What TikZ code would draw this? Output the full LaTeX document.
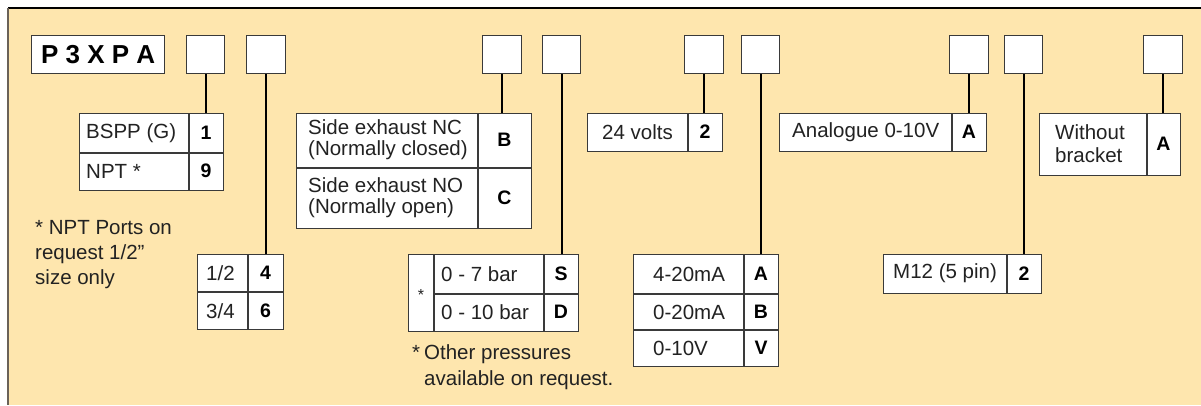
\documentclass[tikz,border=0pt]{standalone}
\usepackage{fontspec}
\setmainfont{Liberation Sans}
\definecolor{panel}{HTML}{FEE6AE}
\definecolor{tline}{HTML}{3A3A3A}
\definecolor{txt}{HTML}{222222}
\definecolor{lborder}{HTML}{6A6258}
\tikzset{
  panelfill/.style={fill=panel, draw=none},
  codebox/.style={draw=tline, fill=white, line width=1.3pt, inner sep=0pt, anchor=north west},
  cell/.style={draw=tline, fill=white, line width=1.2pt, inner sep=0pt, anchor=north west},
  div/.style={draw=tline, line width=1.2pt},
  conn/.style={draw=black, line width=2pt},
  lbl/.style={anchor=west, inner sep=0pt, text=txt, font=\fontsize{20.5}{22}\selectfont, align=left},
  code/.style={inner sep=0pt, text=black, font=\fontsize{19.5}{21}\selectfont\bfseries},
  note/.style={anchor=west, inner sep=0pt, text=txt, font=\fontsize{20.5}{25}\selectfont, align=left},
}
\newcommand{\cbox}[3]{\node[codebox, minimum width=#2pt, minimum height=38pt] (#1) at (#3,35) {};}
\begin{document}
\begin{tikzpicture}[x=1pt,y=-1pt]
\useasboundingbox (0,0) rectangle (1201,405);
\fill[panelfill] (8,8) rectangle (1201,405);
\draw[black, line width=1.5pt] (8,8) -- (1201,8);
\draw[lborder, line width=2pt] (8,8) -- (8,405);

% code boxes
\node[codebox, minimum width=133pt, minimum height=38pt] (p3) at (31,35) {};
\node[inner sep=0pt, font=\fontsize{26}{28}\selectfont\bfseries] (p3t) at (p3.center) {P 3 X P A};
\cbox{b1}{38}{186}
\cbox{b2}{39}{246}
\cbox{b3}{39}{482}
\cbox{b4}{38}{542}
\cbox{b5}{39}{684}
\cbox{b6}{38}{741}
\cbox{b7}{39}{949}
\cbox{b8}{38}{1004}
\cbox{b9}{39}{1143}

% table 1: thread
\node[cell, minimum width=144pt, minimum height=77pt] (t1) at (79,113) {};
\draw[div] (189,113) -- (189,190);
\draw[div] (79,153) -- (223,153);
\node[lbl] (t1a) at (86,133) {BSPP (G)};
\node[lbl] (t1b) at (86,171) {NPT *};
\node[code] (t1c) at (206,133) {1};
\node[code] (t1d) at (206,171) {9};

% footnote NPT
\node[note] (n1) at (35,255) {* NPT Ports on\\request 1/2”\\size only};

% table 2: size
\node[cell, minimum width=86pt, minimum height=75pt] (t2) at (197,254) {};
\draw[div] (248,254) -- (248,329);
\draw[div] (197,292) -- (283,292);
\node[lbl] (t2a) at (206,273) {1/2};
\node[lbl] (t2b) at (206,311) {3/4};
\node[code] (t2c) at (265.5,273) {4};
\node[code] (t2d) at (265.5,311) {6};

% table 3: exhaust
\node[cell, minimum width=235pt, minimum height=115pt] (t3) at (296,113) {};
\draw[div] (478,113) -- (478,228);
\draw[div] (296,168) -- (531,168);
\node[lbl, font=\fontsize{20.5}{21}\selectfont] (t3a) at (308,140) {Side exhaust NC\\(Normally closed)};
\node[lbl, font=\fontsize{20.5}{21}\selectfont] (t3b) at (308,198) {Side exhaust NO\\(Normally open)};
\node[code] (t3c) at (504.5,140) {B};
\node[code] (t3d) at (504.5,198) {C};

% table 4: pressure
\node[cell, minimum width=170pt, minimum height=77pt] (t4) at (408,254) {};
\draw[div] (434,254) -- (434,331);
\draw[div] (544,254) -- (544,331);
\draw[div] (434,294) -- (578,294);
\node[inner sep=0pt, text=txt, font=\fontsize{16}{16}\selectfont] (t4s) at (421,295) {*};
\node[lbl] (t4a) at (441,274) {0 - 7 bar};
\node[lbl] (t4b) at (441,312) {0 - 10 bar};
\node[code] (t4c) at (561,274) {S};
\node[code] (t4d) at (561,312) {D};
\node[note, font=\fontsize{20.5}{26}\selectfont] (n2) at (412,367) {*\hspace{4pt}Other pressures\\\hspace{12pt}available on request.};

% table 5: voltage
\node[cell, minimum width=135pt, minimum height=38pt] (t5) at (587,113) {};
\draw[div] (688,113) -- (688,151);
\node[lbl] (t5a) at (602,132) {24 volts};
\node[code] (t5c) at (705,132) {2};

% table 6: signal
\node[cell, minimum width=145pt, minimum height=112pt] (t6) at (633,254) {};
\draw[div] (744,254) -- (744,366);
\draw[div] (633,294) -- (778,294);
\draw[div] (633,330) -- (778,330);
\node[lbl] (t6a) at (653,274) {4-20mA};
\node[lbl] (t6b) at (653,312) {0-20mA};
\node[lbl] (t6c) at (653,348) {0-10V};
\node[code] (t6d) at (761,274) {A};
\node[code] (t6e) at (761,312) {B};
\node[code] (t6f) at (761,348) {V};

% table 7: analogue
\node[cell, minimum width=207pt, minimum height=38pt] (t7) at (779,113) {};
\draw[div] (952,113) -- (952,151);
\node[lbl] (t7a) at (792,132) {Analogue 0-10V};
\node[code] (t7c) at (969,132) {A};

% table 8: connector
\node[cell, minimum width=158pt, minimum height=39pt] (t8) at (883,254) {};
\draw[div] (1007,254) -- (1007,293);
\node[lbl] (t8a) at (893,273.5) {M12 (5 pin)};
\node[code] (t8c) at (1024,273.5) {2};

% table 9: bracket
\node[cell, minimum width=141pt, minimum height=62pt] (t9) at (1039,113) {};
\draw[div] (1147,113) -- (1147,175);
\node[lbl, font=\fontsize{20.5}{23}\selectfont] (t9a) at (1055,144) {Without\\bracket};
\node[code] (t9c) at (1163.5,144) {A};

% connectors
\draw[conn] (b1.south) -- (b1.south |- t1.north);
\draw[conn] (b2.south) -- (b2.south |- t2.north);
\draw[conn] (b3.south) -- (b3.south |- t3.north);
\draw[conn] (b4.south) -- (b4.south |- t4.north);
\draw[conn] (b5.south) -- (b5.south |- t5.north);
\draw[conn] (b6.south) -- (b6.south |- t6.north);
\draw[conn] (b7.south) -- (b7.south |- t7.north);
\draw[conn] (b8.south) -- (b8.south |- t8.north);
\draw[conn] (b9.south) -- (b9.south |- t9.north);
\end{tikzpicture}
\end{document}
